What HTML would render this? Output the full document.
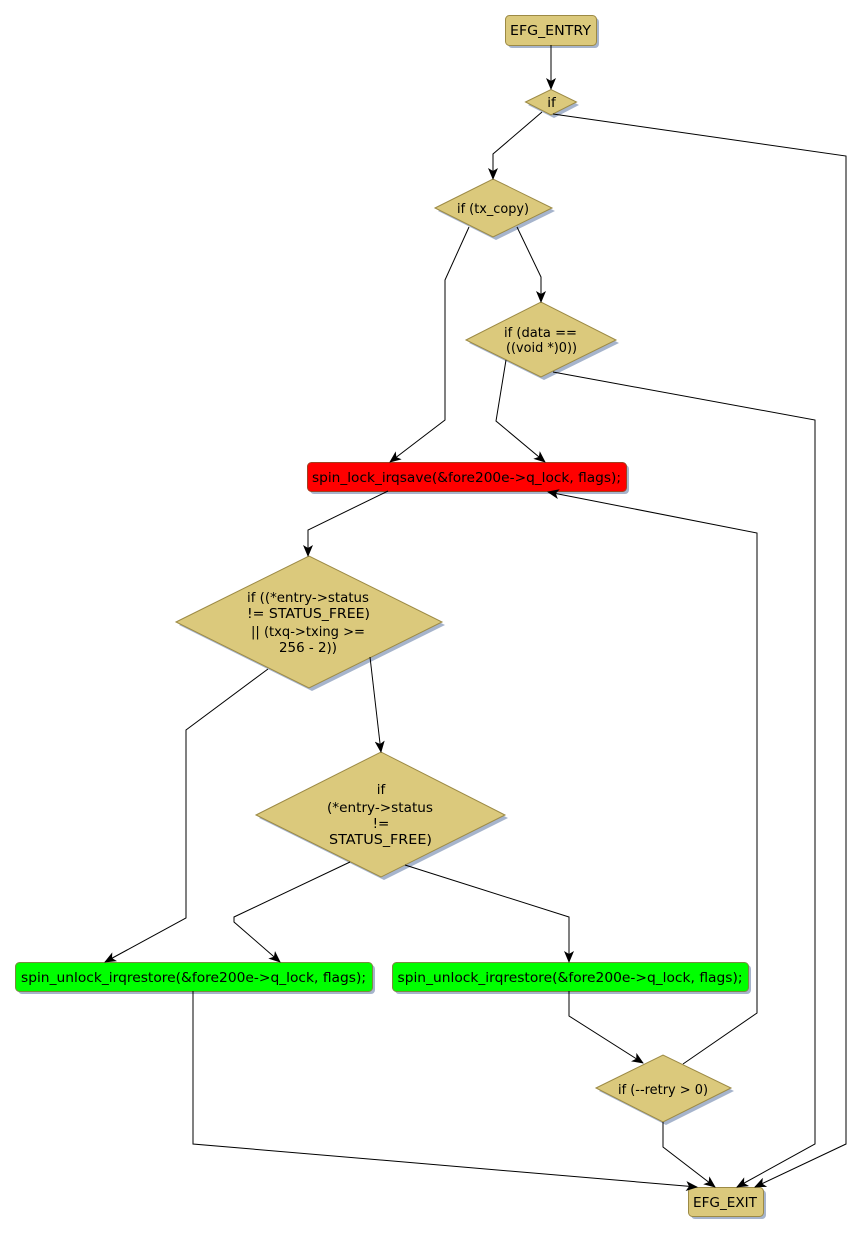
<!DOCTYPE html>
<html>
<head>
<meta charset="utf-8">
<style>
  html, body { margin:0; padding:0; background:#ffffff; }
  svg { display:block; }
  text { font-family: "DejaVu Sans", "Liberation Sans", sans-serif; font-size:13.5px; fill:#000; }
</style>
</head>
<body>
<svg width="862" height="1235" viewBox="0 0 862 1235" xmlns="http://www.w3.org/2000/svg">
  <defs>
    <marker id="ah" viewBox="0 0 12 10" refX="11" refY="5" markerWidth="12" markerHeight="10" markerUnits="userSpaceOnUse" orient="auto">
      <path d="M0,0 L12,5 L0,10 L3,5 z" fill="#000"/>
    </marker>
  </defs>

  <!-- shadows -->
  <g fill="#a6b4cc">
    <rect x="508" y="18" width="91" height="30" rx="4"/>
    <polygon points="528,105 554,92 579,105 554,118"/>
    <polygon points="438,211 496,182 555,211 496,240"/>
    <polygon points="469,343 544,305 619,343 544,380"/>
    <rect x="310" y="465" width="319" height="29" rx="4"/>
    <polygon points="179,625 312,559 445,625 312,691"/>
    <polygon points="259,818 384,755 508,818 384,880"/>
    <rect x="18" y="965" width="357" height="29" rx="4"/>
    <rect x="395" y="965" width="356" height="29" rx="4"/>
    <polygon points="599,1091 666,1058 734,1091 666,1125"/>
    <rect x="691" y="1190" width="75" height="29" rx="4"/>
  </g>

  <!-- nodes -->
  <g stroke="#9c8a45" stroke-width="1" fill="#dbc97c">
    <rect x="505.5" y="15.5" width="91" height="30" rx="4"/>
    <polygon points="525.5,102 551,89.5 576.5,102 551,115"/>
    <polygon points="435,208 493,179 552,208 493,237"/>
    <polygon points="466,340 541,302 616,340 541,377"/>
    <rect x="307.5" y="462.5" width="319" height="29" rx="4" fill="#ff0000" stroke="#a04020"/>
    <polygon points="176,622 309,556 442,622 309,688"/>
    <polygon points="256,815 381,752 505,815 381,877"/>
    <rect x="15.5" y="962.5" width="357" height="29" rx="4" fill="#00ff00" stroke="#7a8a40"/>
    <rect x="392.5" y="962.5" width="356" height="29" rx="4" fill="#00ff00" stroke="#7a8a40"/>
    <polygon points="596,1088 663,1055 731,1088 663,1122"/>
    <rect x="688.5" y="1187.5" width="75" height="29" rx="4"/>
  </g>

  <!-- edges -->
  <g fill="none" stroke="#000" stroke-width="1">
    <polyline points="551,45 551,89" marker-end="url(#ah)"/>
    <polyline points="542,112 493,154 493,179" marker-end="url(#ah)"/>
    <polyline points="553,114 846,156 846,1144 755,1187" marker-end="url(#ah)"/>
    <polyline points="469,227 445,280 445,420 390,462" marker-end="url(#ah)"/>
    <polyline points="517,227 541,277 541,302" marker-end="url(#ah)"/>
    <polyline points="506,360 496,421 545,462" marker-end="url(#ah)"/>
    <polyline points="553,372 815,420 815,1144 737,1187" marker-end="url(#ah)"/>
    <polyline points="388,491 308,530 308,556" marker-end="url(#ah)"/>
    <polyline points="268,669 186,730 186,918 105,962" marker-end="url(#ah)"/>
    <polyline points="370,657 381,752" marker-end="url(#ah)"/>
    <polyline points="350,862 234,917 234,922 280,962" marker-end="url(#ah)"/>
    <polyline points="405,865 569,917 569,962" marker-end="url(#ah)"/>
    <polyline points="193,991 193,1144 697,1187" marker-end="url(#ah)"/>
    <polyline points="569,991 569,1016 643,1063" marker-end="url(#ah)"/>
    <polyline points="683,1064 757,1013 757,533 548,492" marker-end="url(#ah)"/>
    <polyline points="663,1122 663,1147 715,1187" marker-end="url(#ah)"/>
  </g>

  <!-- labels -->
  <g text-anchor="middle" lengthAdjust="spacingAndGlyphs">
    <text x="550.5" y="35" textLength="81" lengthAdjust="spacingAndGlyphs">EFG_ENTRY</text>
    <text x="551.5" y="107">if</text>
    <text x="493" y="213" textLength="72" lengthAdjust="spacingAndGlyphs">if (tx_copy)</text>
    <text x="540.5" y="337" textLength="73" lengthAdjust="spacingAndGlyphs">if (data ==</text>
    <text x="541.5" y="352" textLength="71" lengthAdjust="spacingAndGlyphs">((void *)0))</text>
    <text x="466.5" y="482" textLength="309" lengthAdjust="spacingAndGlyphs">spin_lock_irqsave(&amp;fore200e-&gt;q_lock, flags);</text>
    <text x="308" y="602" textLength="122" lengthAdjust="spacingAndGlyphs">if ((*entry-&gt;status</text>
    <text x="308.5" y="618" textLength="123" lengthAdjust="spacingAndGlyphs">!= STATUS_FREE)</text>
    <text x="308" y="636" textLength="114" lengthAdjust="spacingAndGlyphs">|| (txq-&gt;txing &gt;=</text>
    <text x="308" y="652" textLength="58" lengthAdjust="spacingAndGlyphs">256 - 2))</text>
    <text x="381" y="794">if</text>
    <text x="380" y="812" textLength="106" lengthAdjust="spacingAndGlyphs">(*entry-&gt;status</text>
    <text x="381" y="828">!=</text>
    <text x="380.5" y="844" textLength="103" lengthAdjust="spacingAndGlyphs">STATUS_FREE)</text>
    <text x="193.5" y="982" textLength="345" lengthAdjust="spacingAndGlyphs">spin_unlock_irqrestore(&amp;fore200e-&gt;q_lock, flags);</text>
    <text x="570" y="982" textLength="345" lengthAdjust="spacingAndGlyphs">spin_unlock_irqrestore(&amp;fore200e-&gt;q_lock, flags);</text>
    <text x="663" y="1094" textLength="90" lengthAdjust="spacingAndGlyphs">if (--retry &gt; 0)</text>
    <text x="725" y="1207" textLength="64" lengthAdjust="spacingAndGlyphs">EFG_EXIT</text>
  </g>
</svg>
</body>
</html>
